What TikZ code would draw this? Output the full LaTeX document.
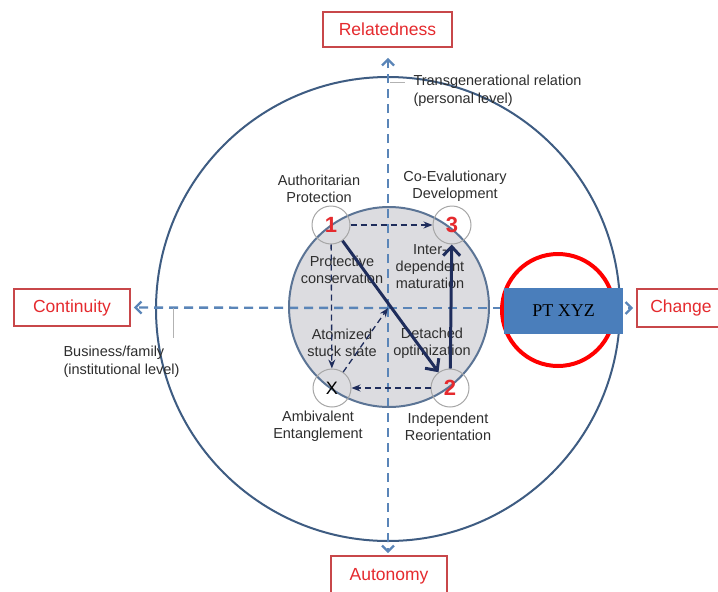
\documentclass[tikz,border=0pt]{standalone}
\usepackage{fontspec}
\setmainfont{Liberation Sans}
\newfontfamily\timesf{Liberation Serif}
\usetikzlibrary{arrows.meta}
\definecolor{axisblue}{HTML}{5A85B8}
\definecolor{ringblue}{HTML}{3E5C82}
\definecolor{innerfill}{HTML}{DCDCE0}
\definecolor{navy}{HTML}{1F2D5C}
\definecolor{boxred}{HTML}{C8474A}
\definecolor{txtred}{HTML}{E52A2E}
\definecolor{ptblue}{HTML}{4A7EBB}
\definecolor{txtgray}{HTML}{2E2E2E}
\begin{document}
\begin{tikzpicture}[x=1pt,y=-1pt,
  labelbox/.style={draw=boxred, line width=1.6pt, fill=white, text=txtred, font=\fontsize{17.5}{20}\selectfont, inner sep=0pt},
  axis/.style={draw=axisblue, line width=2.4pt, dash pattern=on 9pt off 6pt, -{Straight Barb[length=6pt,width=12pt,line width=2.4pt]}},
  leader/.style={draw=gray!60, line width=1pt},
  smallc/.style={circle, draw=gray!70, line width=1pt, minimum size=38pt, inner sep=0pt},
  num/.style={text=txtred, font=\fontsize{22}{22}\selectfont\bfseries},
  lbl/.style={align=center, text=txtgray, font=\fontsize{14.5}{17}\selectfont},
  dasharrow/.style={draw=navy, line width=1.3pt, dash pattern=on 6pt off 4pt, -{Stealth[length=9pt,width=7pt]}},
  solidarrow/.style={draw=navy, line width=3pt, -{Straight Barb[length=9pt,width=17pt,line width=3pt]}}
]
\useasboundingbox (0,0) rectangle (718,592);
\fill[white] (0,0) rectangle (718,592);

% circles (fills)
\node[circle, draw=ringblue, line width=2pt, minimum size=464pt, inner sep=0pt] (outer) at (388,309) {};
\node[circle, fill=innerfill, minimum size=200pt, inner sep=0pt] (inner) at (389,307) {};

% label boxes
\node[labelbox, minimum width=129pt, minimum height=35pt] (rel) at (387.5,29.5) {Relatedness};
\node[labelbox, minimum width=116pt, minimum height=40pt] (aut) at (389,576) {Autonomy};
\node[labelbox, minimum width=116pt, minimum height=37pt] (con) at (72,307.5) {Continuity};
\node[labelbox, minimum width=88pt, minimum height=38pt] (chg) at (681,308) {Change};

% axes
\coordinate (ctr) at (388,308);
\draw[axis, shorten >=10pt] (ctr) -- (ctr |- rel.south);
\draw[axis, shorten >=2pt] (ctr) -- (ctr |- aut.north);
\draw[axis, shorten >=3pt] (ctr) -- (con.east);
\draw[axis, shorten >=3pt] (ctr) -- (chg.west);

% inner circle border
\draw[draw=ringblue!85, line width=2pt] (inner.center) circle (100pt);

% leaders
\coordinate (la) at (173,308);
\coordinate (lb) at (173,338);
\draw[leader] (la) -- (lb);
\coordinate (lc) at (390,82);
\coordinate (ld) at (405,82);
\draw[leader] (lc) -- (ld);
\node[anchor=west, align=left, text=txtgray, font=\fontsize{14.5}{18}\selectfont] (tgr) at (410,91) {Transgenerational relation\\(personal level)};
\node[anchor=west, align=left, text=txtgray, font=\fontsize{14.5}{18}\selectfont] (bfam) at (60,362) {Business/family\\(institutional level)};

% small circles
\node[smallc, num] (c1) at (331,225) {1};
\node[smallc, num] (c3) at (452,225) {3};
\node[smallc, num] (c2) at (450,388) {2};
\node[smallc, text=black, font=\fontsize{18}{18}\selectfont] (cx) at (332,388) {X};

% quadrant labels
\node[lbl] (lap) at (319,189) {Authoritarian\\Protection};
\node[lbl] (lcd) at (455,186) {Co-Evalutionary\\Development};
\node[lbl] (lae) at (318,426) {Ambivalent\\Entanglement};
\node[lbl] (lir) at (448,427) {Independent\\Reorientation};

\node[lbl] (lpc) at (342,270) {Protective\\conservation};
\node[lbl] (lim) at (430,267) {Inter-\\dependent\\maturation};
\node[lbl] (las) at (342,343) {Atomized\\stuck state};
\node[lbl] (ldo) at (432,343) {Detached\\optimization};

% arrows
\draw[dasharrow] (c1) -- (c3);
\draw[dasharrow] (c2) -- (cx);
\draw[dasharrow] (c1) -- (cx);
\draw[dasharrow] (cx) -- (ctr);
\draw[solidarrow] (c1) -- (c2);
\draw[solidarrow] (c2) -- (c3);

% PT XYZ overlay
\node[circle, draw=red, line width=4pt, minimum size=112pt, inner sep=0pt] (ring) at (558,310) {};
\node[fill=ptblue, minimum width=119pt, minimum height=46pt, inner sep=0pt, font=\timesf\fontsize{18}{18}\selectfont, text=black] (pt) at (563.5,311) {PT XYZ};
\end{tikzpicture}
\end{document}
